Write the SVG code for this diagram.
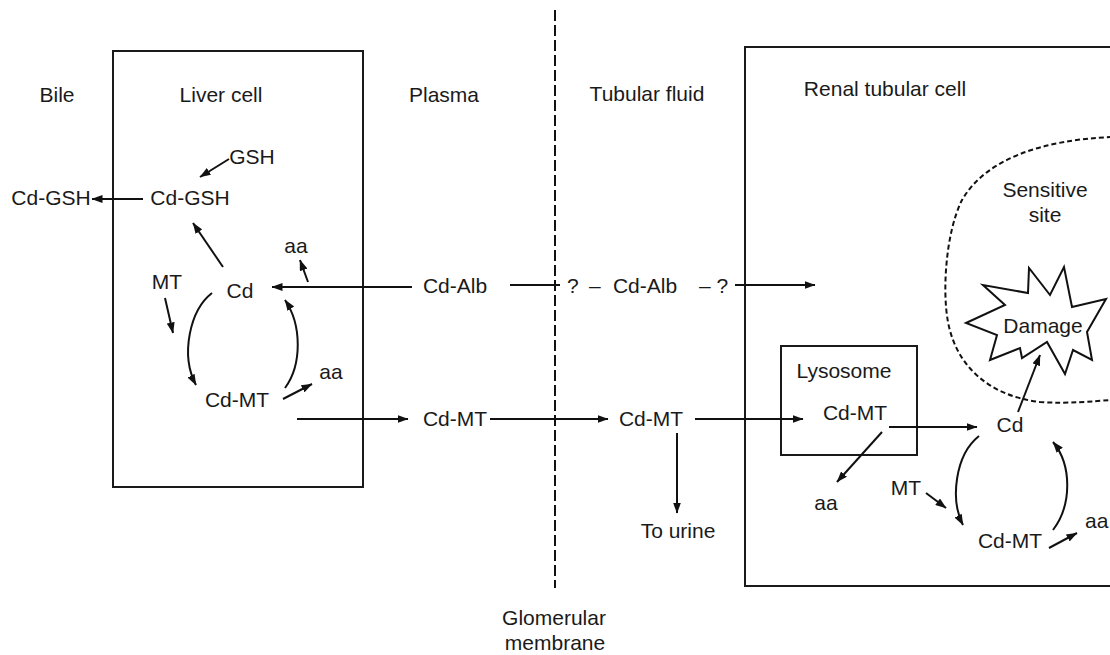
<svg xmlns="http://www.w3.org/2000/svg" width="1110" height="655" viewBox="0 0 1110 655">
<defs>
<marker id="ah" markerUnits="userSpaceOnUse" markerWidth="11" markerHeight="8" refX="10.5" refY="4" orient="auto">
<path d="M0,0 L11,4 L0,8 z" fill="#111"/>
</marker>
<style>
text{font-family:"Liberation Sans",Arial,sans-serif;font-size:21px;fill:#1a1a1a;text-anchor:middle}
.s{text-anchor:start}
.box{fill:none;stroke:#1a1a1a;stroke-width:2}
.ln{fill:none;stroke:#111;stroke-width:2}
.ar{fill:none;stroke:#111;stroke-width:2;marker-end:url(#ah)}
.dash{fill:none;stroke:#111;stroke-width:2;stroke-dasharray:11 4}
.dot{fill:none;stroke:#111;stroke-width:2;stroke-dasharray:5 3}
</style>
</defs>
<rect width="1110" height="655" fill="#fff"/>

<g id="membrane">
<line class="dash" x1="555" y1="10" x2="555" y2="588"/>
<text x="554" y="625">Glomerular</text>
<text x="555" y="650">membrane</text>
</g>

<g id="liver-cell">
<rect class="box" x="113" y="51" width="250" height="436"/>
<text x="221" y="102">Liver cell</text>
</g>
<g id="renal-cell">
<rect class="box" x="745" y="47" width="380" height="539"/>
<text x="885" y="96">Renal tubular cell</text>
</g>
<g id="lysosome">
<rect class="box" x="781" y="346" width="136" height="109"/>
<text x="844" y="378">Lysosome</text>
</g>
<g id="sensitive-site">
<path class="dot" d="M1112,137 C1040,140 985,160 962,200 C946,232 942,290 948,322 C956,365 988,396 1040,402 C1070,404 1095,401 1112,400"/>
<text x="1045" y="197">Sensitive</text>
<text x="1045" y="222">site</text>
</g>
<g id="damage">
<polygon fill="#fff" stroke="#111" stroke-width="2" stroke-linejoin="miter" points="966,323 1005,305 983,285 1028,293 1029,268 1050,295 1064,267 1072,307 1106,299 1087,332 1092,360 1073,350 1065,374 1047,342 1022,358 1020,348 990,360 997,335"/>
<text x="1043" y="333">Damage</text>
</g>

<g id="labels">
<text x="57" y="102">Bile</text>
<text x="444" y="102">Plasma</text>
<text x="647" y="101">Tubular fluid</text>
<text x="252" y="164">GSH</text>
<text x="190" y="205">Cd-GSH</text>
<text x="51" y="205">Cd-GSH</text>
<text x="296" y="253">aa</text>
<text x="167" y="289">MT</text>
<text x="240" y="298">Cd</text>
<text x="455" y="293">Cd-Alb</text>
<text x="237" y="407">Cd-MT</text>
<text x="331" y="379">aa</text>
<text x="455" y="426">Cd-MT</text>
<text class="s" x="567" y="293">?</text>
<text class="s" x="589" y="293">–</text>
<text x="645" y="293">Cd-Alb</text>
<text class="s" x="699" y="293">– ?</text>
<text x="651" y="426">Cd-MT</text>
<text x="678" y="538">To urine</text>
<text x="855" y="420">Cd-MT</text>
<text x="826" y="510">aa</text>
<text x="1010" y="432">Cd</text>
<text x="906" y="495">MT</text>
<text x="1010" y="548">Cd-MT</text>
<text class="s" x="1085" y="528">aa</text>
</g>

<g id="connectors">
<line class="ar" x1="143" y1="199" x2="92" y2="199"/>
<line class="ar" x1="229" y1="159" x2="200" y2="177"/>
<line class="ar" x1="223" y1="267" x2="193" y2="223"/>
<line class="ar" x1="308" y1="282" x2="300" y2="260"/>
<line class="ar" x1="165" y1="298" x2="173" y2="333"/>
<line class="ar" x1="412" y1="287" x2="272" y2="287"/>
<line class="ln" x1="510" y1="285" x2="560" y2="285"/>
<line class="ar" x1="735" y1="285" x2="815" y2="285"/>
<path class="ar" d="M212,293 C190,310 180,355 196,385"/>
<path class="ar" d="M285,388 C302,365 302,325 285,300"/>
<line class="ar" x1="283" y1="399" x2="312" y2="384"/>
<line class="ar" x1="297" y1="419" x2="408" y2="419"/>
<line class="ar" x1="490" y1="419" x2="608" y2="419"/>
<line class="ar" x1="695" y1="419" x2="803" y2="419"/>
<line class="ar" x1="677" y1="433" x2="677" y2="513"/>
<line class="ar" x1="889" y1="427" x2="977" y2="427"/>
<line class="ar" x1="882" y1="432" x2="837" y2="482"/>
<line class="ar" x1="1018" y1="412" x2="1040" y2="355"/>
<path class="ar" d="M979,436 C955,455 950,500 963,525"/>
<line class="ar" x1="926" y1="493" x2="946" y2="508"/>
<path class="ar" d="M1053,530 C1072,505 1072,465 1053,442"/>
<line class="ar" x1="1049" y1="548" x2="1077" y2="533"/>
</g>
</svg>
